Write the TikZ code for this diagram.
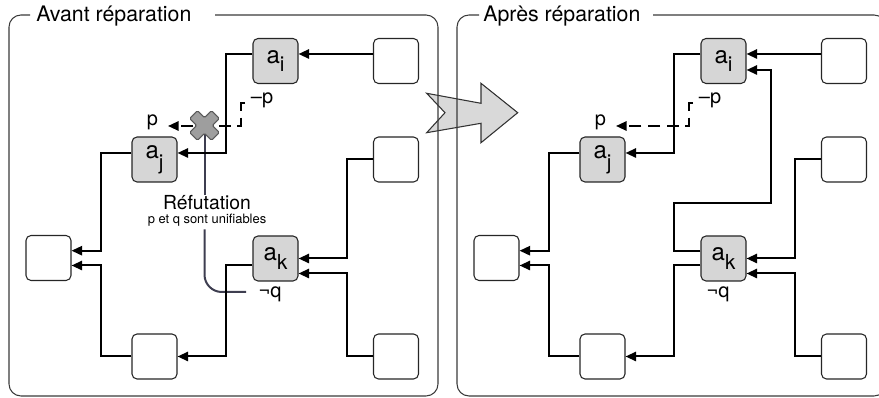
\documentclass[tikz,border=0pt]{standalone}
\usepackage{fontspec}
\setmainfont{TeX Gyre Heros}
\usetikzlibrary{arrows.meta,calc}
\definecolor{boxgray}{HTML}{D6D6D6}
\definecolor{framegray}{HTML}{3A3A3A}
\definecolor{crossgray}{HTML}{9E9E9E}
\definecolor{refblue}{RGB}{62,62,80}
\definecolor{arrowgray}{HTML}{D9D9D9}
\newcommand\alab[2]{{\fontsize{18}{20}\selectfont a}\raisebox{-#2}{\fontsize{15.5}{17}\selectfont #1}}
\begin{document}
\begin{tikzpicture}[x=0.75pt,y=-0.75pt,
  box/.style={draw=black!85, line width=0.8pt, rounded corners=3.75pt, minimum width=33.75pt, minimum height=33.75pt, inner sep=0pt, fill=white},
  gbox/.style={box, fill=boxgray},
  conn/.style={line width=1.5pt, -{Triangle[length=8pt,width=7pt]}},
  dconn/.style={conn, dash pattern=on 9pt off 5pt},
  lab/.style={font=\fontsize{15}{17}\selectfont, inner sep=0pt, anchor=base},
  frame/.style={draw=framegray, line width=0.8pt, rounded corners=9pt},
  title/.style={font=\fontsize{16}{18}\selectfont, inner sep=0pt, anchor=base west},
  refline/.style={draw=refblue, line width=1.5pt},
  bigarrow/.style={fill=arrowgray, draw=black!80, line width=0.8pt},
  crossmark/.style={fill=crossgray, draw=black!65, line width=0.8pt, rounded corners=1pt}
]
\clip (0,0) rectangle (879,398);

% big arrow between the panels
\filldraw[bigarrow] (426.7,93.3) -- (481,103.3) -- (481,83.3) -- (517.7,112.7) -- (481,142.7) -- (481,123.3) -- (426.7,132.7) -- (445,112.7) -- cycle;

% frames and titles
\draw[frame] (215,15) -- (438,15) -- (438,396) -- (9,396) -- (9,15) -- (30,15);
\draw[frame] (653,15) -- (886,15) -- (886,396) -- (457,396) -- (457,15) -- (479,15);
\node[title] (Ltitle) at (36,21.7) {Avant réparation};
\node[title] (Rtitle) at (483,21.7) {Après réparation};

% ---------- left panel ----------
\node[gbox] (Lai) at (275.5,61) {\alab{i}{5.5pt}};
\node[box]  (Ltr) at (396,61) {};
\node[gbox] (Laj) at (154.5,159.5) {\alab{j}{8.5pt}};
\node[box]  (Lmr) at (396,159.5) {};
\node[box]  (Llw) at (48.5,258) {};
\node[gbox] (Lak) at (275.5,258.5) {\alab{k}{6.5pt}};
\node[box]  (Lbm) at (154.5,356.5) {};
\node[box]  (Lbr) at (396,356.5) {};

\node[lab] (Lp)  at (152.5,126) {p};
\node[lab] (Lmp) at (262,104) {–p};
\node[lab] (Lnq) at (270,298) {¬q};

\node[font=\fontsize{14.5}{16}\selectfont, inner sep=0pt, anchor=base] (refut) at (207,209.3) {Réfutation};
\node[font=\fontsize{9.7}{11}\selectfont, inner sep=0pt, anchor=base] (unif) at (207,223.3) {p et q sont unifiables};

\coordinate (LX) at (204.5,125.5);
\coordinate (qend) at (246,292);
\draw[refline] (LX) -- (LX |- refut.north);
\draw[refline, rounded corners=13pt] ($(LX |- unif.south)+(0,3)$) |- (qend);

\coordinate (Ld0) at (245,103);
\coordinate (Ldt) at (168,126);
\draw[dconn] (Ld0) -| (241,126) -- (Ldt);

\draw[conn] ($(Ltr.west)+(0,-7)$) -- ($(Lai.east)+(0,-7)$);
\draw[conn] ($(Lai.west)+(0,-7)$) -- ++(-26,0) |- ($(Laj.east)+(0,-6.5)$);
\draw[conn] ($(Laj.west)+(0,-6.5)$) -- ++(-30,0) |- ($(Llw.east)+(0,-7.3)$);
\draw[conn] (Lmr.west) -- ++(-26,0) |- (Lak.east);
\draw[conn] (Lbr.west) -- ++(-26,0) |- ($(Lak.east)+(0,15)$);
\draw[conn] ($(Lak.west)+(0,7)$) -- ++(-26.5,0) |- (Lbm.east);
\draw[conn] (Lbm.west) -- ++(-30.5,0) |- ($(Llw.east)+(0,7.5)$);

\begin{scope}[shift={(LX)}, rotate=45]
\filldraw[crossmark] (5.5,5.5) -- (5.5,15.5) -- (-5.5,15.5) -- (-5.5,5.5) -- (-15.5,5.5) -- (-15.5,-5.5) -- (-5.5,-5.5) -- (-5.5,-15.5) -- (5.5,-15.5) -- (5.5,-5.5) -- (15.5,-5.5) -- (15.5,5.5) -- cycle;
\end{scope}

% ---------- right panel ----------
\node[gbox] (Rai) at (723.5,61) {\alab{i}{5.5pt}};
\node[box]  (Rtr) at (844,61) {};
\node[gbox] (Raj) at (602.5,159.5) {\alab{j}{8.5pt}};
\node[box]  (Rmr) at (844,159.5) {};
\node[box]  (Rlw) at (496.5,258) {};
\node[gbox] (Rak) at (723.5,258.5) {\alab{k}{6.5pt}};
\node[box]  (Rbm) at (602.5,356.5) {};
\node[box]  (Rbr) at (844,356.5) {};

\node[lab] (Rp)  at (600.5,126) {p};
\node[lab] (Rmp) at (710,104) {–p};
\node[lab] (Rnq) at (718,298) {¬q};

\coordinate (Rd0) at (693,103);
\coordinate (Rdt) at (616,126);
\draw[dconn] (Rd0) -| (689,126) -- (Rdt);

\draw[conn] ($(Rtr.west)+(0,-7)$) -- ($(Rai.east)+(0,-7)$);
\draw[conn] ($(Rai.west)+(0,-7)$) -- ++(-26,0) |- ($(Raj.east)+(0,-6.5)$);
\draw[conn] ($(Raj.west)+(0,-6.5)$) -- ++(-30,0) |- ($(Rlw.east)+(0,-7.3)$);
\draw[conn] (Rmr.west) -- ++(-26,0) |- (Rak.east);
\draw[conn] (Rbr.west) -- ++(-26,0) |- ($(Rak.east)+(0,15)$);
\draw[conn] ($(Rak.west)+(0,7)$) -- ++(-26.5,0) |- (Rbm.east);
\draw[conn] (Rbm.west) -- ++(-30.5,0) |- ($(Rlw.east)+(0,7.5)$);
\coordinate (Rbend) at (771,203.3);
\draw[conn] ($(Rak.west)+(0,-7)$) -- ++(-26.5,0) |- (Rbend) |- ($(Rai.east)+(0,9)$);
\end{tikzpicture}
\end{document}
